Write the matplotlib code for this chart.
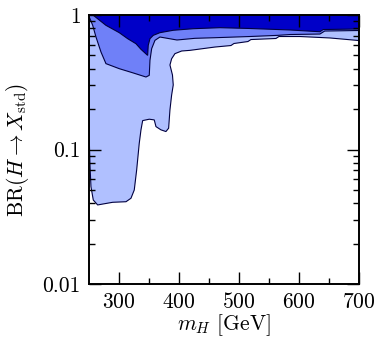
import matplotlib
matplotlib.use("Agg")
import matplotlib.pyplot as plt
from matplotlib.ticker import FixedLocator, FixedFormatter, LogLocator, NullFormatter

plt.rcParams['font.family'] = 'serif'
plt.rcParams['font.serif'] = ['cmr10']
plt.rcParams['mathtext.fontset'] = 'cm'
plt.rcParams['axes.formatter.use_mathtext'] = True

# light region: boundary traced clockwise from top-right, closed along the left axis
light_m = [250, 700, 700, 651.7, 601.7, 566.7, 561.7, 520, 515, 491.7, 486.7, 460,
           418.3, 404.5, 393.3, 387.8, 385, 389.2, 390.5, 387.8, 385, 383.8, 382.8,
           378.3, 370, 361.7, 358.8, 350.5, 339.5, 336.7, 333.8, 329.5, 325.5, 320,
           311.7, 289.5, 272.8, 264.5, 257.2, 253.3, 251.7, 250.5, 250]
light_br = [1, 1, 0.646, 0.675, 0.692, 0.692, 0.669, 0.657, 0.635, 0.614, 0.593, 0.578,
            0.546, 0.540, 0.516, 0.473, 0.425, 0.358, 0.302, 0.254, 0.197, 0.166, 0.144,
            0.136, 0.140, 0.148, 0.166, 0.168, 0.164, 0.140, 0.111, 0.0704, 0.050, 0.0434,
            0.0409, 0.0405, 0.0393, 0.0387, 0.0421, 0.0529, 0.0767, 0.118, 0.118]

# medium region: lower edge, filled up to 1
med_m = [250.5, 256.2, 261.7, 270, 278.3, 300.5, 322.8, 345, 350.5, 351.7, 354.5,
         360, 368.3, 396.7, 426.7, 460, 518, 565, 585, 635, 643, 700]
med_br = [0.966, 0.838, 0.686, 0.531, 0.435, 0.399, 0.372, 0.346, 0.356, 0.461, 0.562,
          0.648, 0.686, 0.652, 0.671, 0.678, 0.692, 0.706, 0.716, 0.722, 0.760, 0.767]

# dark region: lower edge, filled up to 1
dark_m = [256.7, 278.3, 300.5, 314.5, 328.3, 336.7, 347.8, 348.8, 351.7, 357.2,
          368.3, 390.5, 423.8, 468.3, 518, 585, 635, 640.5, 700]
dark_br = [1.0, 0.838, 0.739, 0.667, 0.612, 0.556, 0.501, 0.595, 0.667, 0.706,
           0.739, 0.770, 0.791, 0.805, 0.794, 0.774, 0.751, 0.780, 0.787]

fig = plt.figure(figsize=(3.77, 3.42), dpi=100)
ax = fig.add_axes([0.236, 0.1696, 0.716, 0.7865])
ax.set_yscale('log')

edge = '#000040'
ax.fill(light_m, light_br, facecolor='#b0c0ff', edgecolor=edge, linewidth=0.8)
ax.fill(med_m + [700, 250.5], med_br + [1, 1], facecolor='#6f80f8', edgecolor=edge, linewidth=0.8)
ax.fill(dark_m + [700, 256.7], dark_br + [1, 1], facecolor='#0000c8', edgecolor=edge, linewidth=0.8)

ax.set_xlim(250, 700)
ax.set_ylim(0.01, 1)

ax.xaxis.set_major_locator(FixedLocator([300, 400, 500, 600, 700]))
ax.xaxis.set_minor_locator(FixedLocator([350, 450, 550, 650]))
ax.yaxis.set_major_locator(FixedLocator([0.01, 0.1, 1]))
ax.yaxis.set_major_formatter(FixedFormatter(['0.01', '0.1', '1']))
ax.yaxis.set_minor_locator(LogLocator(base=10, subs=range(2, 10)))
ax.yaxis.set_minor_formatter(NullFormatter())

ax.tick_params(which='both', direction='in', top=True, right=True, width=1.0, labelsize=15.5)
ax.tick_params(which='major', length=8.5, pad=6)
ax.tick_params(which='minor', length=4.5)
for s in ax.spines.values():
    s.set_linewidth(1.4)
    s.set_zorder(5)

ax.set_xlabel(r'$m_H$ [GeV]', fontsize=15.5, labelpad=0)
ax.set_ylabel(r'BR$(H\rightarrow X_{\rm std})$', fontsize=15.5, labelpad=8)

fig.savefig('out.png', dpi=100)
